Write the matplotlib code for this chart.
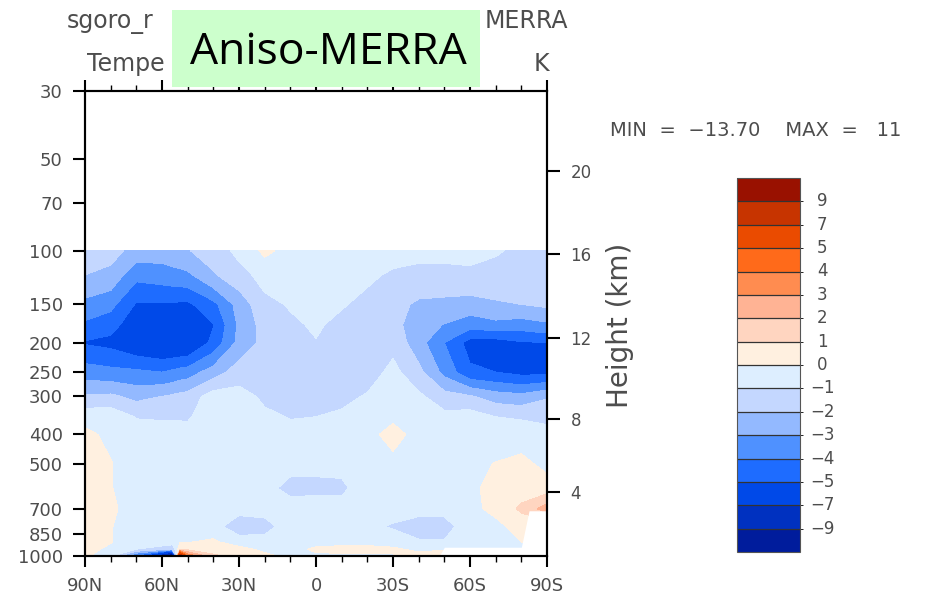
import numpy as np
import matplotlib
matplotlib.use('Agg')
import matplotlib.pyplot as plt
from matplotlib.colors import ListedColormap, BoundaryNorm
from matplotlib.patches import Rectangle
from matplotlib.ticker import FixedLocator, NullLocator

# latitude (deg, N positive) and pressure (hPa) of the grid
lats = [90, 80, 70, 60, 56, 53, 50, 40, 30, 20, 10, 0, -10, -20, -30, -40, -50, -60, -70, -80, -90]
plev = [100, 120, 150, 175, 200, 250, 300, 350, 400, 500, 600, 700, 800, 900, 950, 1000]

# temperature difference (K), one row per pressure level
dtemp = [
    [-1.7, -1.6, -2.4, -2.5, -2.3, -2.2, -2.05, -1.6, -0.7, 0.2, -0.3, -0.3, -0.4, -0.5, -0.6, -0.8, -0.8, -0.7, -0.85, -1.3, -1.3],
    [-2.0, -2.3, -3.7, -3.5, -3.4, -3.3, -3.2, -2.1, -1.4, -0.6, -0.5, -0.4, -0.5, -0.8, -1.15, -1.2, -1.2, -1.2, -1.5, -1.6, -1.5],
    [-3.3, -3.7, -5.1, -5.1, -5.1, -5.2, -5.2, -4.3, -2.6, -1.3, -0.9, -0.6, -0.9, -1.3, -1.6, -2.2, -2.3, -2.4, -2.1, -2.0, -1.8],
    [-4.2, -4.6, -5.7, -5.9, -5.9, -6.0, -6.0, -5.05, -2.8, -1.6, -1.2, -0.85, -1.3, -1.6, -1.7, -2.5, -3.05, -3.6, -3.3, -3.5, -3.2],
    [-5.1, -5.3, -5.9, -6.2, -6.2, -6.2, -6.2, -4.7, -2.7, -1.7, -1.4, -1.05, -1.4, -1.7, -1.3, -2.6, -4.0, -5.4, -5.5, -5.1, -5.0],
    [-3.5, -3.7, -3.8, -4.0, -3.8, -3.6, -3.5, -2.5, -1.5, -1.6, -1.5, -1.4, -1.5, -1.5, -0.7, -1.7, -3.3, -4.8, -5.0, -5.3, -5.3],
    [-1.9, -1.8, -2.3, -2.0, -1.85, -1.7, -1.6, -0.5, -0.6, -1.2, -1.4, -1.3, -1.3, -0.9, -0.5, -0.8, -1.6, -1.9, -2.5, -2.7, -2.1],
    [-0.3, -0.3, -1.05, -1.1, -1.1, -1.1, -1.1, -0.5, -0.5, -0.8, -1.05, -1.0, -0.8, -0.6, -0.2, -0.5, -0.7, -0.5, -1.0, -1.1, -1.3],
    [0.2, -0.2, -0.6, -0.6, -0.6, -0.65, -0.7, -0.5, -0.5, -0.5, -0.7, -0.7, -0.6, -0.3, 0.35, -0.35, -0.6, -0.4, -0.6, -0.5, -0.6],
    [0.4, 0.05, -0.5, -0.5, -0.5, -0.5, -0.5, -0.5, -0.5, -0.6, -0.8, -0.8, -0.8, -0.5, -0.3, -0.4, -0.5, -0.3, 0.05, 0.3, -0.3],
    [0.4, 0.05, -0.5, -0.5, -0.5, -0.5, -0.5, -0.6, -0.6, -0.8, -1.2, -1.2, -1.15, -0.6, -0.5, -0.5, -0.4, -0.2, 0.3, 0.5, 0.5],
    [0.5, 0.2, -0.5, -0.5, -0.5, -0.5, -0.5, -0.6, -0.7, -0.7, -0.7, -0.6, -0.7, -0.7, -0.6, -0.7, -0.6, -0.2, 0.2, 1.2, 2.5],
    [0.4, 0.05, -0.5, -0.5, -0.5, -0.45, -0.4, -0.7, -1.5, -1.3, -0.6, -0.5, -0.6, -0.8, -1.1, -1.4, -1.5, -0.3, -0.2, 0.3, 0.3],
    [0.4, 0.05, -0.5, -0.4, -0.4, -0.1, -0.05, 0.2, -0.6, -0.7, -0.5, -0.4, -0.3, -0.3, -0.5, -0.9, -0.9, -0.4, -0.4, 0.0, 0.0],
    [0.3, -0.2, -1.0, -1.5, -2.0, 0.8, 0.7, 0.5, 0.4, -0.3, -0.4, 0.2, 0.3, 0.3, 0.2, -0.3, -0.2, -0.2, -0.5, -0.3, 0.0],
    [0.2, -0.8, -4.5, -9.5, -13.7, 9.5, 4.0, 1.2, 0.6, 0.3, -0.3, -0.2, -0.2, -0.2, -0.1, 0.5, 1.0, 0.0, 0.0, 0.0, 0.0],
]

# below-ground area (Antarctica)
ground_lat = [-48, -50, -80, -83, -90]
ground_p = [1000, 936, 936, 711, 711]

levels = [-9, -7, -5, -4, -3, -2, -1, 0, 1, 2, 3, 4, 5, 7, 9]
colors = ['#001c9c', '#0031c0', '#0049e8', '#1e6cff', '#4f91ff', '#93b9ff', '#c4d7ff', '#ddeeff',
          '#fff0e0', '#ffd5c0', '#ffb394', '#ff8c50', '#ff6a1a', '#ea4b00', '#c73400', '#991100']

p_ticks = [30, 50, 70, 100, 150, 200, 250, 300, 400, 500, 700, 850, 1000]
lat_ticks = [90, 60, 30, 0, -30, -60, -90]
lat_labels = ['90N', '60N', '30N', '0', '30S', '60S', '90S']
height_km = [4, 8, 12, 16, 20]

W, H = 931, 597
gray = '#4d4d4d'


def fx(x):
    return x / W


def fy(y):
    return 1 - y / H


def std_pressure(z):
    if z <= 11:
        return 1013.25 * (1 - 0.0065 * z * 1000 / 288.15) ** 5.25588
    return 226.32 * np.exp(-(z - 11) * 1000 / 6341.62)


fig = plt.figure(figsize=(W / 100, H / 100), dpi=100)
ax = fig.add_axes([fx(85), fy(556), fx(547) - fx(85), fy(91) - fy(556)])

cmap = ListedColormap(colors[1:-1])
cmap.set_under(colors[0])
cmap.set_over(colors[-1])
norm = BoundaryNorm(levels, cmap.N)

cf = ax.contourf(lats, plev, np.array(dtemp), levels=levels, cmap=cmap, norm=norm, extend='both')
ax.fill_between(ground_lat, ground_p, 1000, color='white', lw=0, zorder=1.5)

ax.set_yscale('log')
ax.set_ylim(1000, 30)
ax.set_xlim(90, -90)
ax.yaxis.set_major_locator(FixedLocator(p_ticks))
ax.yaxis.set_minor_locator(NullLocator())
ax.set_yticklabels([str(p) for p in p_ticks])
ax.set_xticks(lat_ticks)
ax.set_xticklabels(lat_labels)
ax.set_xticks(range(-80, 90, 10), minor=True)

ax.tick_params(axis='y', which='major', direction='out', length=9, width=1.5,
               pad=7, labelsize=13, labelcolor=gray)
ax.tick_params(axis='x', which='major', direction='out', length=8, width=1.5,
               pad=7, labelsize=13, labelcolor=gray, top=True, bottom=True)
ax.tick_params(axis='x', which='minor', direction='out', length=4.5, width=1,
               top=True, bottom=True)
for s in ax.spines.values():
    s.set_linewidth(1.5)

ax2 = ax.twinx()
ax2.set_yscale('log')
ax2.set_ylim(1000, 30)
ax2.yaxis.set_major_locator(FixedLocator([std_pressure(z) for z in height_km]))
ax2.yaxis.set_minor_locator(NullLocator())
ax2.set_yticklabels([str(z) for z in height_km])
ax2.tick_params(axis='y', which='major', direction='out', length=9, width=1.5,
                pad=8, labelsize=12, labelcolor=gray)
for s in ax2.spines.values():
    s.set_linewidth(1.5)

# colorbar
cax = fig.add_axes([fx(737), fy(552), fx(800) - fx(737), fy(178) - fy(552)])
cb = fig.colorbar(cf, cax=cax, extendrect=True, extendfrac=1 / 14, drawedges=True)
cb.set_ticks([])
cb.outline.set_edgecolor('#555555')
cb.outline.set_linewidth(0.8)
cb.dividers.set_color('#333333')
cb.dividers.set_linewidth(0.9)
for lev in levels:
    cax.text(1.35, lev, str(lev).replace('-', '\u2212'), transform=cax.get_yaxis_transform(),
             ha='center', va='center', fontsize=12, color=gray)

# header texts
fig.text(fx(67), fy(28.5), 'sgoro_r', fontsize=17, color=gray, va='baseline', ha='left')
fig.text(fx(568), fy(28.5), 'MERRA', fontsize=17, color=gray, va='baseline', ha='right')
fig.text(fx(87), fy(71), 'Tempe', fontsize=17, color=gray, va='baseline', ha='left')
fig.text(fx(549), fy(71), 'K', fontsize=17, color=gray, va='baseline', ha='right')
fig.add_artist(Rectangle((fx(172), fy(87)), fx(480) - fx(172), fy(10) - fy(87),
                         transform=fig.transFigure, facecolor='#ccffcc', edgecolor='none', zorder=5))
fig.text(fx(328), fy(63.5), 'Aniso-MERRA', fontsize=32, family='Open Sans', color='black',
         ha='center', va='baseline', zorder=6)

fig.text(fx(610), fy(131), 'MIN  =  \u221213.70    MAX  =   11', fontsize=14, color=gray,
         ha='left', va='center')
fig.text(fx(620), fy(325), 'Height (km)', fontsize=20, color=gray, rotation=90,
         ha='center', va='center')

fig.savefig('out.png', dpi=100)
